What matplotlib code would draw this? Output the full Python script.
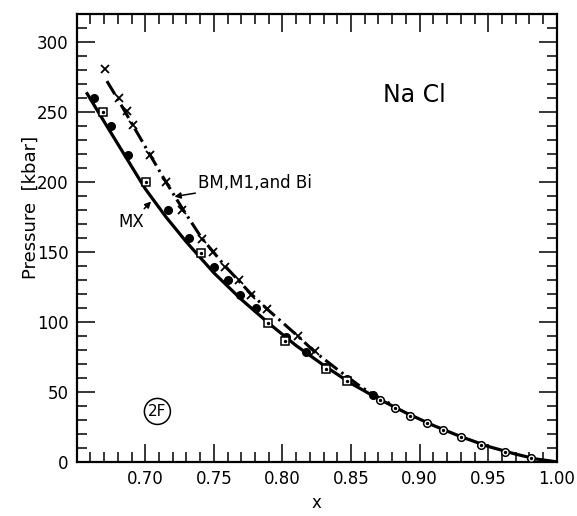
import matplotlib
matplotlib.use("Agg")
import matplotlib.pyplot as plt
from matplotlib.ticker import MultipleLocator, FixedLocator

plt.rcParams["font.family"] = ["DejaVu Sans"]

# MX curve (solid)
solid_x = [0.657, 0.670, 0.685, 0.700, 0.715, 0.730, 0.750, 0.770, 0.790, 0.810,
           0.830, 0.850, 0.870, 0.890, 0.910, 0.930, 0.950, 0.970, 0.985, 1.000]
solid_p = [264, 243, 219, 195, 175, 157, 135, 116, 99, 83,
           69, 56, 45, 35, 26, 18, 11, 5.5, 2, 0]

# BM, M1 and Bi curve (dash-dot)
dash_x = [0.672, 0.680, 0.690, 0.703, 0.715, 0.727, 0.741, 0.758, 0.777, 0.789,
          0.811, 0.823, 0.840, 0.858, 0.872, 0.885]
dash_p = [272, 259, 242, 220, 200, 181, 160, 140, 120, 109,
          90, 79, 66, 53, 45, 38]

# data points
cross_x = [0.6708, 0.6805, 0.6866, 0.6912, 0.7034, 0.7151, 0.7268, 0.7411, 0.7491,
           0.7584, 0.7681, 0.7772, 0.7885, 0.8115, 0.8240]
cross_p = [280.5, 260, 251, 240.7, 219.5, 200, 180, 159, 150, 139.5, 130, 119, 109, 90, 79]

dot_x = [0.6628, 0.6750, 0.6876, 0.7163, 0.7321, 0.7499, 0.7601, 0.7693, 0.7808,
         0.8027, 0.8168, 0.8307, 0.8469, 0.8659]
dot_p = [260, 240, 219, 180, 160, 139, 130, 119, 110, 89.5, 78.4, 67.6, 59, 48]

sq_x = [0.6688, 0.7005, 0.7407, 0.7891, 0.8015, 0.8319, 0.8474]
sq_p = [250, 200, 149.5, 99.3, 86, 66.2, 57.4]

ring_x = [0.871, 0.882, 0.893, 0.905, 0.917, 0.930, 0.945, 0.962, 0.981]
ring_p = [44, 38.5, 33, 28, 23, 17.5, 12, 7, 2.5]

xticks = [0.70, 0.75, 0.80, 0.85, 0.90, 0.95, 1.00]
yticks = [0, 50, 100, 150, 200, 250, 300]

fig = plt.figure(figsize=(5.77, 5.16), dpi=100)
ax = fig.add_axes([0.133, 0.105, 0.832, 0.868])

ax.plot(solid_x, solid_p, color="k", lw=2.3, solid_capstyle="butt", zorder=2)
ax.plot(dash_x, dash_p, color="k", lw=2.2, dashes=(5, 1.6, 0.8, 1.6), zorder=2)

ax.plot(cross_x, cross_p, ls="none", marker="x", ms=5.5, mew=1.3, color="k", zorder=3)
ax.plot(dot_x, dot_p, ls="none", marker="o", ms=5.5, color="k", zorder=3)
ax.plot(sq_x, sq_p, ls="none", marker="s", ms=5.5, mfc="white", mec="k", mew=1.1, zorder=3)
ax.plot(sq_x, sq_p, ls="none", marker="o", ms=1.4, color="k", zorder=4)
ax.plot(ring_x, ring_p, ls="none", marker="o", ms=5.5, mfc="white", mec="k", mew=1.1, zorder=3)
ax.plot(ring_x, ring_p, ls="none", marker="o", ms=1.4, color="k", zorder=4)

ax.set_xlim(0.65, 1.00)
ax.set_ylim(0, 320)

ax.xaxis.set_major_locator(FixedLocator(xticks))
ax.xaxis.set_minor_locator(MultipleLocator(0.01))
ax.yaxis.set_major_locator(FixedLocator(yticks))
ax.yaxis.set_minor_locator(MultipleLocator(10))
ax.set_xticklabels([f"{t:.2f}" for t in xticks])
ax.set_yticklabels([str(t) for t in yticks])

ax.tick_params(which="both", direction="in", top=True, right=True, width=1.1, color="k")
ax.tick_params(which="major", length=13, labelsize=12, pad=6)
ax.tick_params(which="minor", length=7)
for s in ax.spines.values():
    s.set_linewidth(1.6)

ax.set_xlabel("x", fontsize=12, labelpad=4)
ax.set_ylabel("Pressure  [kbar]", fontsize=13)
ax.yaxis.set_label_coords(-0.078, 0.567)

ax.text(0.896, 262, "Na Cl", fontsize=17, ha="center", va="center")

ax.annotate("BM,M1,and Bi", xy=(0.7212, 189.5), xytext=(0.7385, 199),
            fontsize=12, ha="left", va="center",
            arrowprops=dict(arrowstyle="-|>", color="k", lw=1.1, mutation_scale=9,
                            shrinkA=0, shrinkB=0))
ax.annotate("MX", xy=(0.7042, 186), xytext=(0.6896, 171),
            fontsize=12, ha="center", va="center",
            arrowprops=dict(arrowstyle="-|>", color="k", lw=1.1, mutation_scale=9,
                            shrinkA=2, shrinkB=0))

ax.text(0.7088, 36, "2F", fontsize=11, ha="center", va="center",
        bbox=dict(boxstyle="circle,pad=0.25", fc="none", ec="k", lw=1.1))

fig.savefig("out.png", dpi=100)
